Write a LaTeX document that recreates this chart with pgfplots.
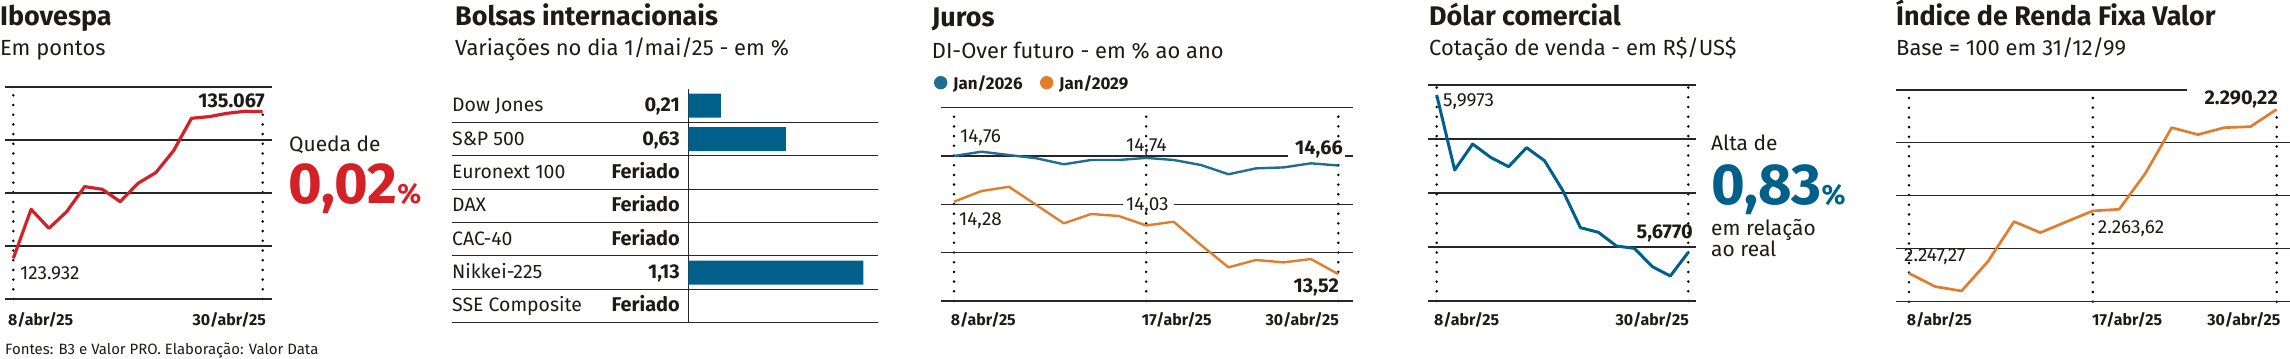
\documentclass[border=0pt]{standalone}
\usepackage{fontspec}
\setmainfont{Fira Sans}
\usepackage{pgfplots}
\pgfplotsset{compat=1.18}
\definecolor{ired}{HTML}{D42027}
\definecolor{iblue}{HTML}{00608A}
\definecolor{lblue}{HTML}{1F6E91}
\definecolor{iorange}{HTML}{E07E2E}
\definecolor{gridc}{HTML}{262626}
\definecolor{txt}{HTML}{1E1A17}
\newcommand\fs[1]{\fontsize{#1}{#1}\selectfont}
\pgfplotsset{
  panel/.style={scale only axis, anchor=south west, axis line style={draw=none}, scaled ticks=false,
    major tick length=0pt, xticklabels={}, yticklabels={}, ymajorgrids, xmajorgrids, clip=false,
    y grid style={gridc, line width=1.1bp},
    x grid style={black, line width=2.8bp, line cap=round, dash pattern=on 0bp off 9.7bp}},
}
\begin{document}
\begin{tikzpicture}
\path[use as bounding box] (0,0) rectangle (2290bp,-359bp);

% ---------- Ibovespa
\begin{axis}[panel, at={(5bp,-299bp)}, width=266.7bp, height=212bp,
  xmin=-0.466, xmax=14.505, ymin=120842, ymax=136939, xtick={0,14},
  ytick={120842,124866,128890,132915,136939}]
\addplot[ired, line width=3.2bp, line join=round, mark=none] coordinates {
(0,123932) (1,127653) (2,126210) (3,127475) (4,129374) (5,129171) (6,128235)
(7,129627) (8,130437) (9,132107) (10,134562) (11,134689) (12,134942) (13,135094) (14,135067)};
\end{axis}

% ---------- Bolsas internacionais
\begin{axis}[scale only axis, anchor=south west, at={(451.7bp,-322.7bp)}, width=426.3bp, height=233.7bp,
  xmin=-1.5265, xmax=1.2239, ymin=-0.5, ymax=6.5, y dir=reverse, scaled ticks=false,
  axis line style={draw=none}, major tick length=0pt, xticklabels={}, yticklabels={},
  ytick={0.5,1.5,2.5,3.5,4.5,5.5,6.5}, ymajorgrids, y grid style={gridc, line width=1.1bp},
  xtick={0}, xmajorgrids, x grid style={gridc, line width=1.1bp},
  xbar, bar width=24bp, bar shift=0pt, clip=false]
\addplot[fill=iblue, draw=none] coordinates {(0.21,0) (0.63,1) (1.13,5)};
\end{axis}

% ---------- Juros
\begin{axis}[panel, at={(941bp,-301bp)}, width=411.7bp, height=193.3bp,
  xmin=-0.4736, xmax=14.5246, ymin=13.2374, ymax=15.267, xtick={0,7,14},
  ytick={13.2374,13.7448,14.2522,14.7596,15.267}]
\addplot[lblue, line width=2.4bp, line join=round, mark=none] coordinates {
(0,14.76) (1,14.805) (2,14.77) (3,14.736) (4,14.673) (5,14.718) (6,14.718) (7,14.74)
(8,14.718) (9,14.665) (10,14.568) (11,14.63) (12,14.64) (13,14.683) (14,14.66)};
\addplot[iorange, line width=2.4bp, line join=round, mark=none] coordinates {
(0,14.28) (1,14.392) (2,14.437) (3,14.245) (4,14.053) (5,14.151) (6,14.13) (7,14.03)
(8,14.07) (9,13.825) (10,13.591) (11,13.668) (12,13.643) (13,13.678) (14,13.52)};
\end{axis}

% ---------- Dolar
\begin{axis}[panel, at={(1427.7bp,-301bp)}, width=268.3bp, height=216bp,
  xmin=-0.5, xmax=14.43, ymin=5.5779, ymax=6.0177, xtick={0,14},
  ytick={5.5779,5.6879,5.7978,5.9078,6.0177}]
\addplot[iblue, line width=3bp, line join=round, mark=none] coordinates {
(0,5.9973) (1,5.8446) (2,5.8975) (3,5.8704) (4,5.8514) (5,5.8901) (6,5.8636) (7,5.8039)
(8,5.7272) (9,5.7177) (10,5.6899) (11,5.6851) (12,5.6478) (13,5.6288) (14,5.6770)};
\end{axis}

% ---------- IRF-M
\begin{axis}[panel, at={(1896bp,-301.7bp)}, width=394bp, height=211.7bp,
  xmin=-0.495, xmax=14.506, ymin=2239.83, ymax=2295.28, xtick={0,7,14},
  ytick={2239.83,2253.69,2267.555,2281.42,2295.28}]
\addplot[iorange, line width=2.7bp, line join=round, mark=none] coordinates {
(0,2247.27) (1,2243.78) (2,2242.64) (3,2250.33) (4,2260.80) (5,2257.92) (6,2260.80) (7,2263.62)
(8,2264.03) (9,2273.46) (10,2285.42) (11,2283.59) (12,2285.42) (13,2285.68) (14,2290.22)};
\end{axis}

\begin{scope}[x=1bp,y=-1bp, every node/.style={inner sep=0pt, text=txt}]
% gridline breaks behind labels
\fill[white] (1288,153.5) rectangle (1345,158);
\fill[white] (1123,202) rectangle (1174,206.5);
\fill[white] (2187,87.5) rectangle (2290,92.5);

% titles
\foreach \x/\y/\t in {0/25/Ibovespa, 455/25/Bolsas internacionais, 931.7/26/Juros, 1429/25/Dólar comercial, 1896/25/Índice de Renda Fixa Valor}
  \node[anchor=base west, font=\fs{27}\bfseries] at (\x,\y) {\t};
\node[anchor=base west, font=\fs{22}] at (0,55) {Em pontos};
\node[anchor=base west, font=\fs{22}] at (455,55) {Variações no dia 1/mai/25 - em \%};
\node[anchor=base west, font=\fs{22}] at (931.7,58) {DI-Over futuro - em \% ao ano};
\node[anchor=base west, font=\fs{22}] at (1429,55) {Cotação de venda - em R\$/US\$};
\node[anchor=base west, font=\fs{22}] at (1896,55) {Base = 100 em 31/12/99};

% x tick labels
\begin{scope}[every node/.append style={font=\fs{16}\bfseries}]
\node[anchor=base west] at (8,325) {8/abr/25};
\node[anchor=base east] at (266,325) {30/abr/25};
\node[anchor=base west] at (950.7,325) {8/abr/25};
\node[anchor=base west] at (1141.7,325) {17/abr/25};
\node[anchor=base east] at (1339,325) {30/abr/25};
\node[anchor=base west] at (1434,325) {8/abr/25};
\node[anchor=base east] at (1689,325) {30/abr/25};
\node[anchor=base west] at (1906.7,325) {8/abr/25};
\node[anchor=base west] at (2092,325) {17/abr/25};
\node[anchor=base east] at (2280.7,325) {30/abr/25};
\end{scope}

% footer
\node[anchor=base west, font=\fs{15}] at (5,354) {Fontes: B3 e Valor PRO. Elaboração: Valor Data};

% Ibovespa labels
\node[anchor=base west, font=\fs{19}] at (20,279.3) {123.932};
\node[anchor=base east, font=\fs{20}\bfseries, fill=white, inner sep=1.5bp] at (266.5,107.3) {135.067};
\node[anchor=base west, font=\fs{21}] at (289,151.7) {Queda de};
\node[anchor=base west, font=\bfseries, text=ired] at (288,203.3) {\fs{58}0,02\fs{28}\%};

% Bolsas rows
\foreach \i/\n/\v in {0/Dow Jones/0{,}21, 1/S\&P 500/0{,}63, 2/Euronext 100/Feriado, 3/DAX/Feriado, 4/CAC-40/Feriado, 5/Nikkei-225/1{,}13, 6/SSE Composite/Feriado}{
  \node[anchor=base west, font=\fs{19.5}] at (452,111.7+33.37*\i) {\n};
  \node[anchor=base east, font=\fs{20}\bfseries] at (680,111.7+33.37*\i) {\v};
}

% Juros legend and labels
\fill[lblue] (940.7,82.7) circle (6.7);
\node[anchor=base west, font=\fs{17}\bfseries] at (953,89) {Jan/2026};
\fill[iorange] (1046.7,82.7) circle (6.7);
\node[anchor=base west, font=\fs{17}\bfseries] at (1059,89) {Jan/2029};
\node[anchor=base west, font=\fs{19}] at (960,142.7) {14,76};
\node[anchor=base west, font=\fs{19}] at (1126,151) {14,74};
\node[anchor=base east, font=\fs{20}\bfseries, fill=white, inner sep=1.5bp] at (1344.5,154) {14,66};
\node[anchor=base west, font=\fs{19}] at (1126,210.7) {14,03};
\node[anchor=base west, font=\fs{19}] at (959,225.7) {14,28};
\node[anchor=base east, font=\fs{20}\bfseries, fill=white, inner sep=1.5bp] at (1340.5,292.7) {13,52};

% Dolar labels
\node[anchor=base west, font=\fs{19}] at (1443,106) {5,9973};
\node[anchor=base east, font=\fs{20}\bfseries] at (1693,238.7) {5,6770};
\node[anchor=base west, font=\fs{21}] at (1711,150.7) {Alta de};
\node[anchor=base west, font=\bfseries, text=iblue] at (1711,204) {\fs{58}0,83\fs{28}\%};
\node[anchor=base west, font=\fs{21}] at (1711,235) {em relação};
\node[anchor=base west, font=\fs{21}] at (1711,256.7) {ao real};

% IRF labels
\node[anchor=base west, font=\fs{19}] at (1904,261.7) {2.247,27};
\node[anchor=base west, font=\fs{19}] at (2097.7,233.3) {2.263,62};
\node[anchor=base east, font=\fs{20}\bfseries, fill=white, inner sep=1.5bp] at (2279.5,104) {2.290,22};
\end{scope}
\end{tikzpicture}
\end{document}
